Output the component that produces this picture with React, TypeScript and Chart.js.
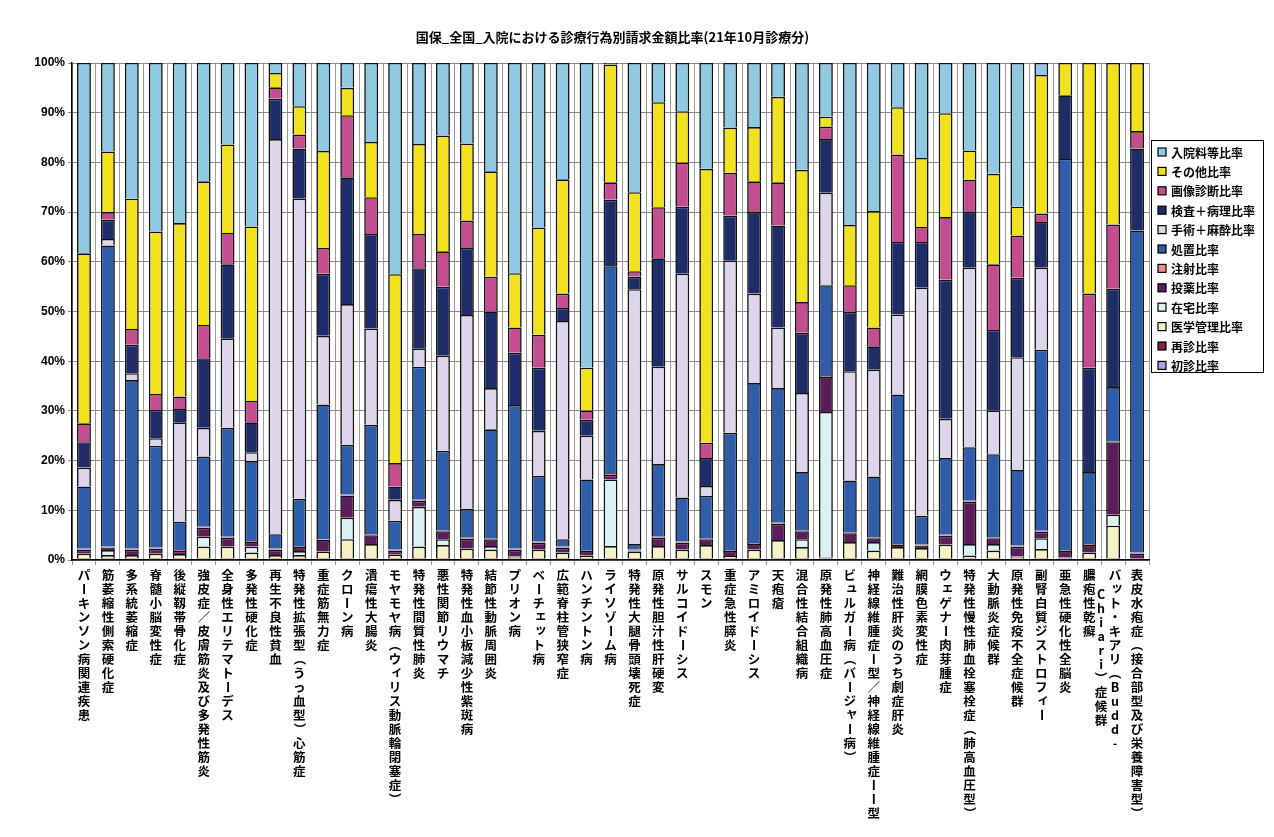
import { useEffect, useRef } from 'react';
import { Chart, registerables } from 'chart.js';

Chart.register(...registerables);

const chartTitle = '国保_全国_入院における診療行為別請求金額比率(21年10月診療分)';

const categories = [
  'パーキンソン病関連疾患',
  '筋萎縮性側索硬化症',
  '多系統萎縮症',
  '脊髄小脳変性症',
  '後縦靱帯骨化症',
  '強皮症／皮膚筋炎及び多発性筋炎',
  '全身性エリテマトーデス',
  '多発性硬化症',
  '再生不良性貧血',
  '特発性拡張型（うっ血型）心筋症',
  '重症筋無力症',
  'クローン病',
  '潰瘍性大腸炎',
  'モヤモヤ病（ウィリス動脈輪閉塞症）',
  '特発性間質性肺炎',
  '悪性関節リウマチ',
  '特発性血小板減少性紫斑病',
  '結節性動脈周囲炎',
  'プリオン病',
  'ベーチェット病',
  '広範脊柱管狭窄症',
  'ハンチントン病',
  'ライソゾーム病',
  '特発性大腿骨頭壊死症',
  '原発性胆汁性肝硬変',
  'サルコイドーシス',
  'スモン',
  '重症急性膵炎',
  'アミロイドーシス',
  '天疱瘡',
  '混合性結合組織病',
  '原発性肺高血圧症',
  'ビュルガー病（バージャー病）',
  '神経線維腫症I型／神経線維腫症II型',
  '難治性肝炎のうち劇症肝炎',
  '網膜色素変性症',
  'ウェゲナー肉芽腫症',
  '特発性慢性肺血栓塞栓症（肺高血圧型）',
  '大動脈炎症候群',
  '原発性免疫不全症候群',
  '副腎白質ジストロフィー',
  '亜急性硬化性全脳炎',
  '膿疱性乾癬',
  'バット・キアリ（Budd-\nChiari）症候群',
  '表皮水疱症（接合部型及び栄養障害型）',
];

const seriesNames = [
  '初診比率', '再診比率', '医学管理比率', '在宅比率', '投薬比率', '注射比率',
  '処置比率', '手術＋麻酔比率', '検査＋病理比率', '画像診断比率', 'その他比率', '入院料等比率',
];

const yTicks = [0, 10, 20, 30, 40, 50, 60, 70, 80, 90, 100];

const shoshin = [0.1,0.1,0.1,0.1,0.1,0.1,0.1,0.1,0.1,0.1,0.1,0.1,0.1,0.1,0.1,0.1,0.1,0.1,0.1,0.1,0.1,0.1,0.1,0.1,0.1,0.1,0.1,0.1,0.1,0.1,0.1,0.1,0.1,0.1,0.1,0.1,0.1,0.1,0.1,0.1,0.1,0.1,0.1,0.1,0.1];
const saishin = [0.2,0.2,0.2,0.2,0.2,0.2,0.2,0.2,0.2,0.2,0.2,0.2,0.2,0.2,0.2,0.2,0.2,0.2,0.2,0.2,0.2,0.2,0.2,0.2,0.2,0.2,0.2,0.2,0.2,0.2,0.2,0.2,0.2,0.2,0.2,0.2,0.2,0.2,0.2,0.2,0.2,0.2,0.2,0.2,0.2];
const igakuKanri = [1.0,0.7,0.7,1.0,0.9,2.4,2.4,1.2,0.7,0.7,1.4,3.9,2.9,0.8,2.4,2.7,2.0,1.8,0.4,1.8,1.2,0.6,2.5,1.4,2.5,1.8,2.7,0.5,1.8,3.7,2.3,0.2,3.3,1.6,2.3,2.1,2.8,0.6,1.6,0.4,1.9,0.2,1.2,6.6,0.0];
const zaitaku = [0,1.0,0,0,0,2.0,0,1.2,0,0.8,0,4.3,0,0,8.0,1.2,0,0.7,0,0,0,0,13.4,0,0,0,0,0,0,0,1.6,29.3,0,1.7,0,0,0,2.3,1.3,0,2.2,0,0,2.2,0];
const touyaku = [0.8,0.5,1.1,1.0,0.6,1.8,1.8,0.9,1.1,0.8,2.3,4.5,1.8,0.8,1.2,1.6,2.0,1.4,1.4,1.4,1.0,0.9,0.9,0.2,1.7,1.4,1.2,1.0,1.1,3.3,1.6,7.0,1.8,0.8,0.4,0.5,1.8,8.5,1.2,2.0,1.3,1.3,1.5,14.6,1.0];
const chusha = [0.2,0.2,0.2,0.2,0.2,0.2,0.2,0.2,0.2,0.2,0.2,0.2,0.2,0.2,0.2,0.2,0.2,0.2,0.2,0.2,0.2,0.2,0.2,0.2,0.2,0.2,0.2,0.2,0.2,0.2,0.2,0.2,0.2,0.2,0.2,0.2,0.2,0.2,0.2,0.2,0.2,0.2,0.2,0.2,0.2];
const shochi = [12.5,60.6,33.9,20.5,5.7,14.1,21.9,16.1,2.9,9.5,27.1,10.0,22.0,5.8,26.8,16.0,5.8,21.9,28.9,13.2,1.5,14.2,41.8,1.1,14.6,8.9,8.5,23.6,32.2,27.1,11.7,18.3,10.4,12.2,30.1,5.8,15.4,10.8,16.7,15.2,36.4,78.7,14.5,10.9,64.8];
const shujutsu = [3.8,1.3,1.4,1.5,20.0,5.8,18.0,1.8,79.5,60.4,13.8,28.3,19.4,4.2,3.7,19.1,39.0,8.3,0,9.1,43.9,8.8,0,51.3,19.6,45.0,2.0,34.7,18.0,12.2,15.9,18.6,22.0,21.5,16.1,45.9,7.9,36.1,8.8,22.7,16.5,0,0,0,0];
const kensa = [5.1,3.9,5.7,5.7,2.7,14.0,14.9,6.0,8.1,10.1,12.5,25.5,19.0,2.7,16.1,13.9,13.5,15.4,10.5,12.7,2.6,3.2,13.4,2.5,21.8,13.5,5.6,9.0,16.4,20.5,12.1,10.8,11.9,4.7,14.6,9.2,28.0,11.2,16.2,16.0,9.2,12.8,21.0,19.8,16.5];
const gazou = [3.8,1.5,3.2,3.2,2.5,6.7,6.3,4.3,2.3,2.8,5.2,12.5,7.4,4.7,6.9,7.1,5.5,7.0,5.1,6.6,2.9,1.9,3.5,1.1,10.3,8.9,3.1,8.6,6.2,8.7,6.2,2.5,5.4,3.8,17.6,3.0,12.6,6.5,13.2,8.5,1.7,0,14.9,12.9,3.5];
const sonota = [34.2,12.2,26.2,32.7,34.9,28.9,17.8,35.1,2.9,5.7,19.5,5.5,11.1,38.0,18.1,23.3,15.5,21.2,10.9,21.6,23.0,8.6,23.7,15.9,21.1,10.3,55.1,9.1,10.9,17.2,26.6,2.0,12.1,23.4,9.5,13.9,20.9,5.9,18.2,5.8,27.9,6.5,46.4,32.5,13.7];
const nyuinryo = [38.3,17.8,27.3,33.9,32.2,23.8,16.4,32.9,2.0,8.7,17.7,5.0,15.9,42.5,16.3,14.6,16.2,21.8,42.3,33.1,23.4,61.3,0.3,26.0,7.9,9.7,21.3,13.0,12.9,6.8,21.5,10.8,32.6,29.8,8.9,19.1,10.1,17.6,22.3,28.9,2.4,0,0,0,0];

const seriesValues = [shoshin, saishin, igakuKanri, zaitaku, touyaku, chusha, shochi, shujutsu, kensa, gazou, sonota, nyuinryo];

const seriesColors = [
  '#a3a3e0', '#7d2448', '#f7f2c6', '#dcf2f2', '#5c1b5a', '#f08a86',
  '#2e5eab', '#ddd6ea', '#1f2c6a', '#c44d8f', '#f2e21e', '#8fcae2',
];

const CJK = '"Noto Sans CJK JP", "Noto Sans", sans-serif';
const ROTATED = new Set(['ー', '（', '）', '－']);
const SMALL_KANA = new Set(['ァ', 'ィ', 'ゥ', 'ェ', 'ォ', 'ッ', 'ャ', 'ュ', 'ョ']);

const overlayPlugin = {
  id: 'overlay',
  afterDraw(chart: any) {
    const ctx: CanvasRenderingContext2D = chart.ctx;
    const area = chart.chartArea;
    const xs = chart.scales.x;
    ctx.save();
    // title
    ctx.fillStyle = '#000';
    ctx.font = `bold 13px ${CJK}`;
    ctx.textAlign = 'center';
    ctx.textBaseline = 'middle';
    ctx.fillText(chartTitle, (area.left + area.right) / 2 + 2, 29);

    // vertical category labels
    ctx.font = `bold 12.5px ${CJK}`;
    const step = 14;
    const labels: string[] = chart.data.labels;
    labels.forEach((label: string, i: number) => {
      const x = xs.getPixelForValue(i);
      const cols = label.split('\n');
      cols.forEach((col, c) => {
        const cx = x + (cols.length > 1 ? 2 : 0) - c * 14;
        let y = area.bottom + 15 + c * 19;
        for (const ch of Array.from(col)) {
          if (ROTATED.has(ch)) {
            ctx.save();
            ctx.translate(cx, y);
            ctx.rotate(Math.PI / 2);
            ctx.fillText(ch, 0, 0);
            ctx.restore();
          } else if (SMALL_KANA.has(ch)) {
            ctx.fillText(ch, cx + 2, y - 2);
          } else {
            ctx.fillText(ch, cx, y);
          }
          y += step;
        }
      });
    });

    // legend
    const bx = area.right + 2;
    const by = 132;
    const bw = 112;
    const bh = 232;
    ctx.fillStyle = '#fff';
    ctx.fillRect(bx, by, bw, bh);
    ctx.strokeStyle = '#000';
    ctx.lineWidth = 1;
    ctx.strokeRect(bx + 0.5, by + 0.5, bw, bh);
    const ds = chart.data.datasets;
    ctx.font = `bold 12px ${CJK}`;
    ctx.textAlign = 'left';
    for (let k = 0; k < ds.length; k++) {
      const d = ds[ds.length - 1 - k];
      const cy = by + 12 + k * 19.4;
      ctx.fillStyle = d.backgroundColor;
      ctx.fillRect(bx + 7, cy - 4, 8, 8);
      ctx.strokeStyle = '#000';
      ctx.lineWidth = 1.2;
      ctx.strokeRect(bx + 7, cy - 4, 8, 8);
      ctx.fillStyle = '#000';
      ctx.fillText(d.label, bx + 20, cy + 1);
    }
    ctx.restore();
  },
};

export default function App() {
  const ref = useRef<HTMLCanvasElement>(null);
  useEffect(() => {
    const canvas = ref.current;
    if (!canvas) return;
    const chart = new Chart(canvas, {
      type: 'bar',
      data: {
        labels: categories,
        datasets: seriesNames.map((name, i) => ({
          label: name,
          data: seriesValues[i],
          backgroundColor: seriesColors[i],
          borderColor: '#111',
          borderWidth: 1.6,
          barPercentage: 0.58,
          categoryPercentage: 1,
        })),
      },
      options: {
        responsive: false,
        animation: false,
        devicePixelRatio: 1,
        layout: { padding: { top: 55, right: 117, left: 0, bottom: 0 } },
        plugins: {
          legend: { display: false },
          title: { display: false },
          tooltip: { enabled: false },
        },
        scales: {
          x: {
            stacked: true,
            ticks: { display: false },
            grid: { color: '#9a9a9a', lineWidth: 1, tickLength: 5, offset: true },
            border: { color: '#000', width: 1.5 },
            afterFit: (s: any) => { s.height = 269; },
          },
          y: {
            stacked: true,
            min: yTicks[0],
            max: yTicks[yTicks.length - 1],
            afterBuildTicks: (s: any) => { s.ticks = yTicks.map((v) => ({ value: v })); },
            ticks: {
              callback: (v: any) => `${v}%`,
              font: { family: '"Liberation Sans", Arial, sans-serif', size: 12, weight: 'bold' },
              color: '#000',
              padding: 3,
            },
            grid: { color: '#8a8a8a', lineWidth: 1, tickLength: 4 },
            border: { color: '#000', width: 1.5 },
            afterFit: (s: any) => { s.width = 64; },
          },
        },
      } as any,
      plugins: [overlayPlugin],
    });
    return () => chart.destroy();
  }, []);
  return <canvas ref={ref} width={1258} height={821} style={{ display: 'block' }} />;
}
